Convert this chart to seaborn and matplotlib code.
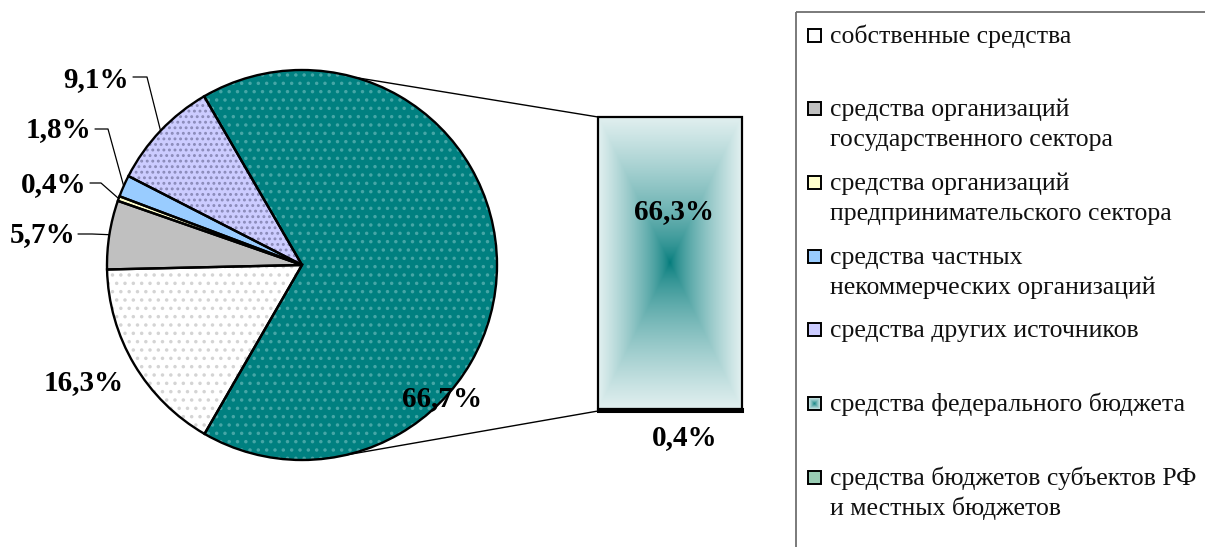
import numpy as np
import pandas as pd
import matplotlib
matplotlib.use("Agg")
import matplotlib.pyplot as plt
import seaborn as sns
from matplotlib.patches import Rectangle, ConnectionPatch
from matplotlib.colors import to_rgb

# ---------------- data ----------------
categories = [
    "собственные средства",
    "средства организаций\nгосударственного сектора",
    "средства организаций\nпредпринимательского сектора",
    "средства частных\nнекоммерческих организаций",
    "средства других источников",
    "средства федерального бюджета",
    "средства бюджетов субъектов РФ\nи местных бюджетов",
]
pie_values = [16.3, 5.7, 0.4, 1.8, 9.1]          # first five categories
bar_values = [66.3, 0.4]                          # federal, regional/local
pie_labels = ["16,3%", "5,7%", "0,4%", "1,8%", "9,1%"]
other_label = "66,7%"
bar_labels = ["66,3%", "0,4%"]

colors = ["#FFFFFF", "#C0C0C0", "#FFFFCC", "#99CCFF", "#CCCCFF", "#008080", "#99CCB3"]
hatch_colors = ["#D4D4D4", None, None, None, "#8A8AB8", "#45A6A6"]
hatches = ["..", None, None, None, "...", ".."]

# ---------------- style ----------------
sns.set_theme(style="white")
plt.rcParams["font.family"] = ["Liberation Serif", "DejaVu Serif"]
plt.rcParams["hatch.linewidth"] = 1.3
palette = sns.color_palette(colors)

W, H = 1205, 547
fig = plt.figure(figsize=(W / 100, H / 100), dpi=100)
fig.patch.set_facecolor("white")

# ---------------- pie ----------------
cx, cy, R = 302, 265, 195
ax = fig.add_axes([(cx - R) / W, (H - cy - R) / H, 2 * R / W, 2 * R / H])
vals = pie_values + [sum(bar_values)]
start = 240

wedges, _ = ax.pie(vals, startangle=start, counterclock=False,
                   colors=palette[:6], wedgeprops=dict(linewidth=0))
for w, h, hc in zip(wedges, hatches, hatch_colors):
    if h:
        w.set_hatch(h)
        w.set_edgecolor(hc)
        w.set_linewidth(0)
outl, _ = ax.pie(vals, startangle=start, counterclock=False,
                 colors=["none"] * 6,
                 wedgeprops=dict(edgecolor="black", linewidth=1.7, fill=False))
ax.set_xlim(-1, 1)
ax.set_ylim(-1, 1)
ax.axis("off")


def P(px, py):
    return ((px - cx) / R, (cy - py) / R)


label_font = dict(fontsize=21, fontweight="bold", color="black")
# label text centres (pixels) for the five small slices
label_px = [(84, 383), (43, 235), (54, 185), (59, 130), (96, 80)]
# leader start and elbow (pixels); None = no leader
leaders = [None,
           [(78, 234), (92, 234)],
           [(90, 183), (101, 183)],
           [(95, 129), (108, 129)],
           [(133, 77), (147, 77)]]

for w, lab, pos, ld in zip(wedges[:5], pie_labels, label_px, leaders):
    x, y = P(*pos)
    ax.text(x, y, lab, ha="center", va="center", **label_font)
    if ld:
        mid = np.deg2rad((w.theta1 + w.theta2) / 2)
        ex, ey = np.cos(mid), np.sin(mid)
        (sx, sy), (bx, by) = P(*ld[0]), P(*ld[1])
        ax.plot([sx, bx, ex], [sy, by, ey], color="black", lw=0.9,
                clip_on=False, zorder=5)

x, y = P(442, 399)
ax.text(x, y, other_label, ha="center", va="center", **label_font)

# ---------------- bar ----------------
bl, br, bt, bb = 598, 742, 117, 411
axb = fig.add_axes([bl / W, (H - bb) / H, (br - bl) / W, (bb - bt) / H])
total = sum(bar_values)
b_low = axb.bar([0], [bar_values[1]], width=1, color=palette[6],
                edgecolor="black", linewidth=2.2, zorder=4)
b_top = axb.bar([0], [bar_values[0]], bottom=bar_values[1], width=1,
                color="none", edgecolor="black", linewidth=1.6, zorder=4)
for p in list(b_low) + list(b_top):
    p.set_clip_on(False)

ny, nx = 400, 200
U, V = np.meshgrid(np.linspace(-1, 1, nx), np.linspace(-1, 1, ny))
D = np.maximum(np.abs(U), np.abs(V)) ** 0.7
c0 = np.array(to_rgb("#007A7A"))
c1 = np.array(to_rgb("#E2F0F0"))
grad = c0[None, None, :] * (1 - D[..., None]) + c1[None, None, :] * D[..., None]
im = axb.imshow(grad, extent=[-0.5, 0.5, bar_values[1], total],
                aspect="auto", origin="lower", zorder=2)
im.set_clip_path(b_top[0])
axb.set_xlim(-0.5, 0.5)
axb.set_ylim(0, total)
axb.axis("off")

axb.text(0.03, bar_values[1] + bar_values[0] * 0.675, bar_labels[0],
         ha="center", va="center", **label_font)
axb.text(0.1, -0.09 * total, bar_labels[1], ha="center", va="center",
         clip_on=False, **label_font)

# connector lines
for ang, yb in [(74, total), (-77, 0)]:
    a = np.deg2rad(ang)
    con = ConnectionPatch(xyA=(np.cos(a), np.sin(a)), coordsA=ax.transData,
                          xyB=(-0.5, yb), coordsB=axb.transData,
                          color="black", lw=1.0, zorder=1)
    fig.add_artist(con)

# ---------------- legend ----------------
lg = fig.add_axes([0, 0, 1, 1])
lg.axis("off")
lg.patch.set_alpha(0)
lg.add_patch(Rectangle((795.5, 11.5), 600, 700, fill=False,
                       edgecolor="#6F6F6F", lw=1.3))
step = 73.7
line_h = 30
for i, (cat, col) in enumerate(zip(categories, colors)):
    yc = 35 + step * i
    if i == 5:
        lg.imshow(grad, extent=[808, 821, yc + 6.5, yc - 6.5], aspect="auto",
                  origin="lower", zorder=2)
        lg.add_patch(Rectangle((808, yc - 6.5), 13, 13, fill=False,
                               edgecolor="black", lw=1.4, zorder=3))
    else:
        lg.add_patch(Rectangle((808, yc - 6.5), 13, 13, facecolor=col,
                               edgecolor="black", lw=1.4, zorder=3))
    for j, line in enumerate(cat.split("\n")):
        lg.text(830, yc + 7.5 + line_h * j, line, ha="left", va="baseline",
                fontsize=18.5, color="#111111")
lg.set_xlim(0, W)
lg.set_ylim(H, 0)

fig.savefig("out.png", dpi=100)
